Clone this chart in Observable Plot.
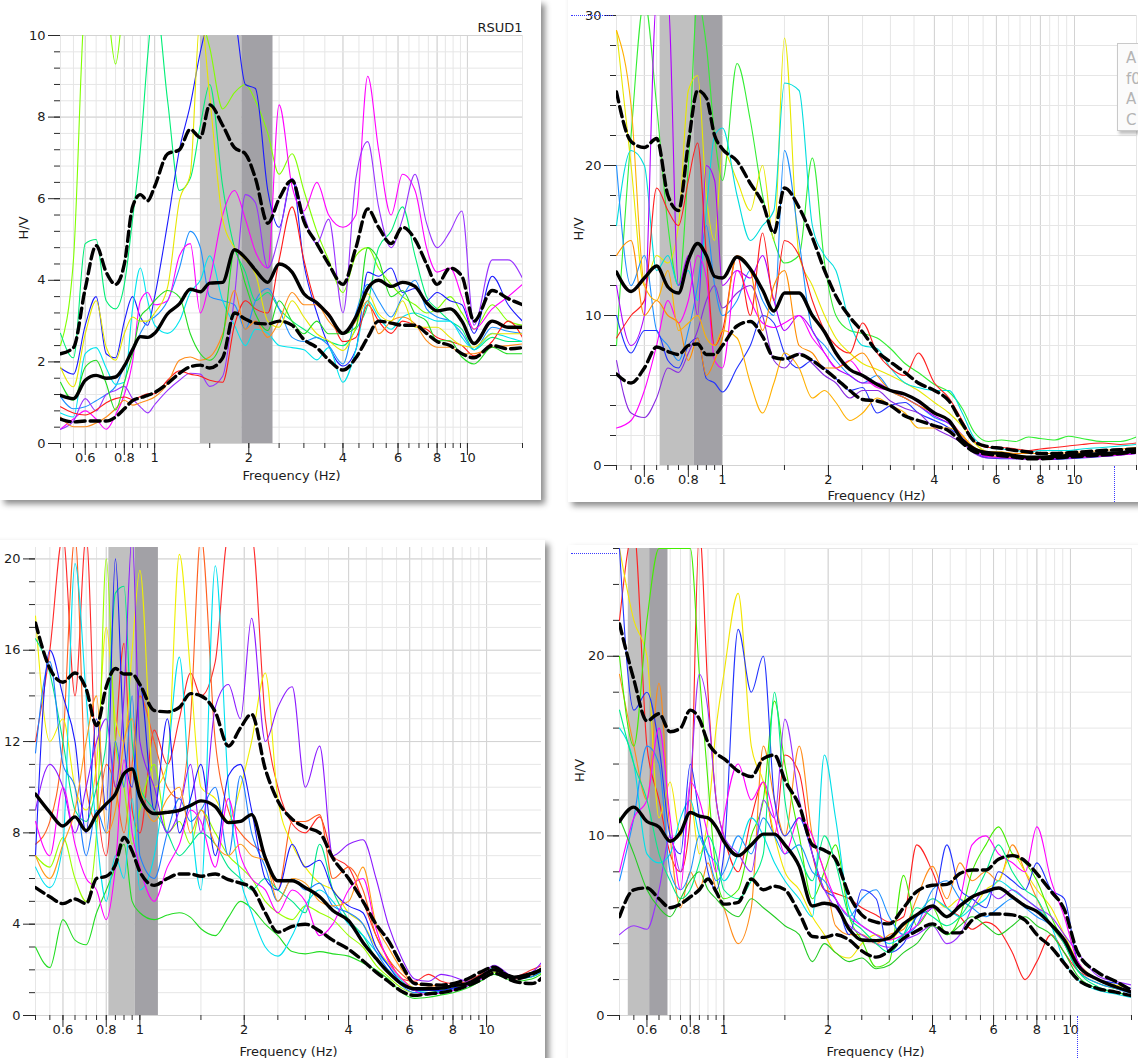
<!DOCTYPE html>
<html><head><meta charset="utf-8">
<script src="https://cdn.jsdelivr.net/npm/d3@7"></script>
<script src="https://cdn.jsdelivr.net/npm/@observablehq/plot@0.6"></script>
<style>
html,body{margin:0;padding:0;background:#fff;width:1138px;height:1058px;overflow:hidden;font-family:"DejaVu Sans",sans-serif;}
.card{position:absolute;background:#fff;overflow:hidden;box-shadow:4px 4px 6px rgba(0,0,0,0.45);}
.card svg{position:absolute;}
.dot{position:absolute;border:0 dotted #3b3bff;}
#legend{position:absolute;left:1117px;top:43px;width:40px;height:88px;border:1px solid #c9c9c9;background:#fbfbfb;box-shadow:2px 3px 3px rgba(0,0,0,0.25);color:#b4b4b4;font:15px "DejaVu Sans",sans-serif;line-height:20.5px;padding:4px 0 0 8px;box-sizing:border-box;}
</style></head><body>
<div id="c1" class="card" style="left:0;top:0;width:541px;height:500px"></div>
<div id="c2" class="card" style="left:568px;top:-10px;width:600px;height:512px"></div>
<div id="c3" class="card" style="left:-10px;top:540px;width:555px;height:540px"></div>
<div id="c4" class="card" style="left:568px;top:545px;width:600px;height:540px"></div>
<div class="dot" style="left:571px;top:15px;width:42px;border-top-width:1px"></div>
<div class="dot" style="left:1114px;top:466px;height:36px;border-left-width:1px"></div>
<div class="dot" style="left:571px;top:553px;width:46px;border-top-width:1px"></div>
<div class="dot" style="left:1077px;top:1016px;height:42px;border-left-width:1px"></div>
<div id="legend"><div>A</div><div>f0</div><div>A</div><div>C</div></div>
<script>
// ---------- shared frequency samples (Hz) and axis ticks ----------
const FREQ = [0.5,0.55,0.6,0.65,0.7,0.75,0.8,0.85,0.9,0.95,
  1,1.1,1.2,1.3,1.4,1.5,1.65,1.8,1.95,2.1,
  2.3,2.5,2.75,3,3.3,3.6,4,4.4,4.8,5.2,
  5.7,6.2,6.8,7.4,8,8.8,9.6,10.5,12,13.5,15];
const X_MINOR_TICKS = [0.5,0.55,0.6,0.65,0.7,0.75,0.8,0.85,0.9,0.95,1,1.5,2,2.5,3,3.5,4,4.5,5,5.5,6,6.5,7,7.5,8,8.5,9,9.5,10,15];
const X_MAJOR_TICKS = [0.6,0.8,1,2,4,6,8,10];
const X_LABEL = "Frequency (Hz)";
const Y_LABEL = "H/V";
const STATION = "RSUD1";

// ---------- panel 1 (top left) ----------
const p1YMajor = [0,2,4,6,8,10];
const p1YMinor = [0,0.4,0.8,1.2,1.6,2,2.4,2.8,3.2,3.6,4,4.4,4.8,5.2,5.6,6,6.4,6.8,7.2,7.6,8,8.4,8.8,9.2,9.6,10];
const p1Band = [1.40, 1.90, 2.39];
const p1Mean = [1.18,1.1,1.55,1.67,1.6,1.63,1.9,2.3,2.62,2.6,
  2.7,3.18,3.42,3.78,3.72,3.93,3.95,4.75,4.55,4.25,
  3.95,4.4,4.2,3.67,3.45,3.15,2.7,3.1,3.8,4.0,
  3.85,3.95,3.85,3.45,3.25,3.3,3.0,2.45,3.0,2.85,2.85];
const p1Upper = [2.2,2.35,3.8,4.85,4.2,3.9,4.4,5.8,6.1,5.95,
  6.3,7.1,7.2,7.7,7.5,8.3,7.8,7.25,7.1,6.5,
  5.4,6.0,6.45,5.45,4.9,4.4,3.9,4.8,5.75,5.3,
  4.9,5.3,5.0,4.4,3.9,4.3,4.1,3.0,3.75,3.55,3.4];
const p1Lower = [0.6,0.53,0.55,0.55,0.55,0.65,0.85,1.05,1.12,1.18,
  1.25,1.47,1.72,1.88,1.92,1.85,2.1,3.2,3.05,2.95,
  2.93,3.0,2.9,2.55,2.35,2.05,1.8,2.1,2.6,3.0,
  2.95,2.9,2.9,2.7,2.5,2.4,2.2,2.1,2.4,2.32,2.35];
const p1Windows = [
 [2.4,4.5,11,12,11,9.3,11,12,12,12, 12,12,12,11,10.5,9.7,8.2,8.6,8.8,8.4, 7.6,6.6,7.1,6.2,5.2,4.5,3.7,4.6,4.8,4.3, 3.9,3.6,3.4,3.2,3.3,3.6,3.2,2.8,3.4,3.0,2.9],
 [2.7,2.1,4.9,5.0,3.5,3.3,3.9,5.5,7.2,9.5, 11,8.4,6.2,6.5,7.8,8.8,6.3,4.8,4.2,3.5, 3.7,3.3,3.0,2.8,2.6,2.5,2.4,2.8,3.4,4.8, 5.2,5.8,4.6,3.6,3.3,3.0,2.8,2.3,2.6,2.5,2.5],
 [1.85,1.7,2.9,3.6,2.2,2.1,3.0,3.6,3.1,2.9, 3.6,5.4,7.2,8.3,9.6,10.5,11,10.5,8.8,8.7, 6.2,5.3,6.5,4.4,3.2,2.4,1.9,2.3,4.2,4.1, 4.3,3.7,3.8,3.5,3.7,3.5,3.4,2.7,4.1,3.4,3.0],
 [1.15,0.85,0.9,1.05,1.2,1.4,1.9,2.3,2.7,3.0, 3.1,3.5,4.3,5.2,4.8,3.6,3.5,3.4,2.8,3.5, 3.8,3.3,2.6,2.5,2.6,2.4,1.95,3.2,3.9,3.5, 3.1,3.6,4.0,3.3,3.1,3.0,2.7,2.3,2.85,2.75,2.7],
 [0.75,0.65,2.2,2.35,1.85,1.45,1.5,3.3,4.3,3.5, 2.9,2.7,3.0,3.7,4.0,4.6,3.5,2.9,2.4,2.8, 2.7,2.4,2.35,2.3,2.05,2.35,1.5,2.3,3.5,3.1, 2.8,3.1,3.2,3.1,3.0,3.0,2.6,2.3,2.7,2.6,2.5],
 [0.35,0.6,0.8,0.6,0.35,0.7,1.2,2.0,3.5,3.7, 3.4,3.5,4.6,4.9,3.2,4.0,5.6,6.2,5.5,4.7, 4.3,8.3,6.3,5.7,6.4,5.6,5.3,5.6,9.0,7.2, 5.6,6.6,6.2,4.8,4.2,4.3,3.6,2.8,3.3,3.6,3.9],
 [0.35,0.55,1.1,0.8,1.2,1.3,1.4,1.1,0.9,0.75, 0.95,1.3,1.55,1.72,1.7,1.4,1.65,3.6,6.1,5.9, 4.3,5.1,6.5,5.6,4.9,5.5,3.2,6.5,7.4,5.8, 4.8,5.5,6.6,5.4,4.8,5.2,5.7,2.9,4.5,4.5,4.05],
 [0.9,0.75,0.7,0.82,1.0,1.1,1.14,1.08,1.15,1.22, 1.22,1.55,1.78,1.7,1.65,1.55,1.5,2.9,3.5,3.3, 3.2,4.5,5.8,4.5,3.4,3.2,2.5,2.6,3.4,3.0, 2.7,3.0,2.9,2.8,2.6,2.5,2.4,2.15,2.5,3.0,2.6],
 [0.65,0.41,0.41,0.5,0.65,0.85,1.06,0.94,1.0,1.06, 1.14,1.47,2.04,2.12,2.04,2.12,2.69,3.75,2.8,3.0, 2.6,3.0,3.7,3.4,3.4,3.0,2.69,3.0,3.5,2.69, 3.0,3.1,2.93,2.52,2.36,2.36,2.2,2.2,2.36,2.4,2.44],
 [1.87,1.39,2.69,3.5,2.36,2.04,2.69,3.1,3.0,3.0, 3.2,3.83,5.95,6.6,10.5,8.5,5.5,4.8,4.5,4.16, 3.0,2.85,3.5,3.1,2.69,2.52,2.28,2.85,3.67,3.18, 3.0,3.5,2.85,2.85,2.85,2.6,2.4,2.36,2.69,2.69,2.69],
 [1.5,1.06,1.87,2.04,1.47,0.82,1.5,2.2,3.1,3.3, 3.5,3.75,3.59,2.69,2.2,2.04,2.6,4.73,3.91,3.18, 2.77,3.5,3.0,2.69,3.0,2.69,2.69,2.85,4.8,4.5, 3.6,3.75,3.18,3.0,2.52,2.52,2.12,1.95,2.36,2.2,2.2]
];
const p1Colors = ["#80ff00","#00ee77","#1a1aff","#1e90ff","#00e5ee","#ff00ff","#9932ff","#ff1a1a","#ff8c1a","#e6e600","#22dd22"];

// ---------- panel 2 (top right) ----------
const p2YMajor = [0,10,20,30];
const p2YMinor = [0,2,4,6,8,10,12,14,16,18,20,22,24,26,28,30];
const p2Band = [0.665, 0.832, 1.0];
const p2Mean = [12.9,11.6,12.5,13.3,11.9,11.5,13.7,14.8,14.0,12.6,
  12.5,13.9,13.1,11.7,10.3,11.5,11.5,10.0,8.9,7.5,
  6.4,6.0,5.4,5.0,4.75,4.3,3.5,3.0,1.7,1.1,
  0.85,0.8,0.65,0.56,0.56,0.6,0.67,0.72,0.8,0.85,1.0];
const p2Upper = [24.9,21.6,21.2,21.8,18.0,17.0,21.5,25.0,24.5,22.0,
  21.1,20.3,18.8,17.5,15.5,18.5,17.2,15.2,13.0,11.3,
  9.9,8.9,7.6,6.9,6.2,5.5,5.0,4.3,2.8,1.6,
  1.25,1.15,1.0,0.9,0.8,0.8,0.85,0.9,1.0,1.05,1.1];
const p2Lower = [6.1,5.5,6.5,7.9,7.6,7.4,8.0,8.1,7.4,7.4,
  8.0,9.3,9.6,8.6,7.2,7.1,7.4,7.0,6.4,5.8,
  5.0,4.4,4.3,4.0,3.3,3.0,2.65,2.3,1.5,0.9,
  0.75,0.65,0.55,0.45,0.45,0.5,0.56,0.62,0.7,0.8,0.9];
const p2Windows = [
 [8.0,22,31,24,16,12,20,31,28,22, 19,26.8,23,18,15,13.5,14,20.5,13.5,10, 9.0,8.8,8.5,7.8,6.8,6.2,5.4,4.9,3.8,2.2, 1.6,1.7,1.6,1.9,1.8,1.7,1.95,1.8,1.6,1.6,1.9],
 [29,20,12,14,13.5,16,25,26,18,15, 21,19,17,20,15,28.5,14,12,10,8.5, 7.5,6.8,6.4,6.0,5.5,5.0,4.2,3.5,2.6,1.5, 0.9,0.9,0.7,0.6,0.6,0.6,0.7,0.8,0.8,0.9,1.0],
 [16,21,20,13,14,12,13,11,17,22, 22.5,18,15,16,17,25.5,25,16,14,13, 9.5,8.0,7.8,6.5,5.5,5.2,5.0,5.0,3.5,1.8, 1.2,1.1,1.0,0.9,1.0,1.0,1.0,1.1,1.2,1.3,1.4],
 [20,12,14,9,8,7,9,12,16,12, 10,11,13,11,10,21,15,9,8,7, 6,5.5,6.0,5.0,4.5,4.0,3.2,2.8,2.0,1.0, 0.6,0.55,0.5,0.5,0.45,0.5,0.55,0.6,0.7,0.75,0.85],
 [10,7.5,9,9,7,6.5,8,8.5,5.8,5.5, 4.9,6.5,8.0,10,9.5,7.5,6.5,7.0,6.5,5.8, 5.0,5.2,3.5,4.0,4.2,3.5,3.0,2.5,1.8,0.9, 0.5,0.45,0.45,0.45,0.4,0.4,0.45,0.5,0.6,0.7,0.8],
 [7.0,3.5,3.2,4.5,6.5,6.2,7.5,9.0,11,12, 10.5,11.5,12,10,7.0,6.5,7.5,6.8,6.0,5.5, 4.5,5.0,5.0,4.3,3.8,3.5,2.5,2.0,1.5,0.8, 0.5,0.5,0.45,0.4,0.4,0.45,0.5,0.55,0.6,0.7,0.8],
 [12,8,10,31,31,12,14,10,20,19, 12,13,12.5,14,11,9,10,9,7.5,6.5, 6.0,5.5,5.5,5.0,4.5,4.0,3.3,2.8,2.0,1.0, 0.6,0.55,0.5,0.45,0.45,0.5,0.55,0.6,0.7,0.8,0.9],
 [2.5,3.0,5,8,11,9.5,11,14,12.5,7, 6.5,13,11,9.5,9.2,9.5,10,8.5,7.5,6.5, 7.0,6.0,5.2,5.0,4.8,4.2,3.5,3.0,2.0,1.0, 0.6,0.55,0.5,0.45,0.4,0.45,0.5,0.55,0.65,0.7,0.8],
 [8.5,10,11,18.5,17,16,19,21.5,14,8, 9,14,10,15.5,11,15,14,11,9,8, 7.5,9.5,7.5,6.5,6.0,7.5,5.5,4.5,3.0,1.6, 1.2,1.2,1.1,1.0,1.1,1.2,1.3,1.4,1.5,1.4,1.5],
 [14,15,10,11,10,9.5,7,8.5,6.0,7, 8.5,14,13,9,12,13,8,7.5,6.5,6.5, 7,7.5,6.0,5.0,4.5,4.0,3.5,3.0,2.0,1.2, 0.9,0.9,0.8,0.8,0.8,0.8,0.85,0.9,1.0,1.1,1.2],
 [29,24,12,11,13,9,9.5,10,8.5,8, 9,8.5,5.5,3.5,5.5,7.5,6.5,4.5,5,4.2, 3.0,3.5,4.5,4.0,3.5,2.5,2.5,2.5,2.0,1.1, 0.7,0.6,0.55,0.5,0.5,0.55,0.6,0.65,0.7,0.8,0.9]
];
const p2Colors = ["#33ee33","#e8e800","#00dddd","#1e90ff","#2233ff","#8a2be2","#b000ff","#ff00ff","#ff2020","#ff8c00","#ffb000"];

// ---------- panel 3 (bottom left) ----------
const p3YMajor = [0,4,8,12,16,20];
const p3YMinor = [0,1,2,3,4,5,6,7,8,9,10,11,12,13,14,15,16,17,18,19,20];
const p3Band = [0.814, 0.970, 1.131];
const p3Mean = [9.7,8.9,8.3,8.7,8.1,8.8,9.27,9.7,10.6,10.8,
  9.6,8.85,8.9,8.98,9.2,9.4,9.15,8.45,8.5,8.8,
  6.9,5.9,5.9,5.6,5.2,4.6,4.15,3.2,2.5,1.9,
  1.38,1.17,1.17,1.2,1.3,1.4,1.7,2.0,1.68,1.85,2.1];
const p3Upper = [17.2,15.2,14.6,15.0,14.3,12.7,14.4,15.2,14.96,14.96,
  14.5,13.36,13.3,13.5,14.1,14.0,13.3,11.8,12.6,13.2,
  10.8,9.4,8.6,8.25,8.0,6.9,6.0,5.0,4.0,3.3,
  2.2,1.4,1.35,1.33,1.4,1.6,1.9,2.12,1.6,1.8,2.2];
const p3Lower = [5.6,5.2,4.9,5.1,4.9,6.0,6.1,6.6,7.8,7.2,
  6.3,5.7,6.0,6.2,6.2,6.1,6.2,5.95,5.8,5.6,
  4.5,3.65,3.9,4.0,3.7,3.3,2.9,2.4,1.9,1.5,
  1.05,0.88,0.95,1.0,1.1,1.3,1.55,1.85,1.5,1.4,1.9];
const p3Windows = [
 [12,16,21,14,21,10,7,12,16.3,9, 8,12.5,11,13,15,14,15.5,21,21,21, 13,10,8.4,8.0,8.7,7.0,6.5,5.0,3.5,2.5, 1.6,1.5,1.8,1.5,1.4,1.5,1.8,2.1,1.7,2.0,2.3],
 [7.5,8.5,12,21,10,8.5,11,10,8,11, 14,12,10,9.5,13,21,12,9,8,7.5, 7,5.5,8.5,8.5,8.8,6.0,6.5,5.5,3.5,2.5, 1.8,1.4,1.3,1.3,1.3,1.4,1.7,2.0,1.6,1.8,2.3],
 [17.5,12,13,10,9,11,17,13,12,16, 19.5,10,11,20.2,15,10,9.5,8.5,10,12, 15,9.5,7.5,6.5,5.8,5.5,4.5,4.0,3.0,2.3, 1.6,1.2,1.1,1.2,1.2,1.4,1.7,2.0,1.6,1.8,2.1],
 [7,6.5,7.8,6,5,8,20,12,10,7.5, 9,11,8,8.5,7.5,9,8,7,6.5,6.0, 5.0,4.5,4.2,4.8,4.5,4.2,3.5,3.0,2.2,1.7, 1.2,1.0,1.0,1.1,1.2,1.3,1.6,1.9,1.6,1.7,2.0],
 [3.0,2.1,4.2,3.3,3.1,4.5,5.5,6.5,7.5,5.0, 4.5,4.2,4.4,4.5,4.3,3.8,3.5,4.3,5.0,4.7, 4.0,3.5,2.8,2.7,2.8,2.7,2.6,2.3,2.0,1.6, 1.0,0.75,0.8,0.9,1.0,1.2,1.5,1.8,1.5,1.6,2.0],
 [16.5,15,12,9,8.5,10,12,18.5,18.8,12, 10,9,8,7.0,7.5,8.0,7.5,6.5,6.0,5.5, 6.0,5.5,5.0,4.5,7.5,5.5,4.2,3.5,2.5,2.0, 1.4,1.1,1.0,1.1,1.2,1.3,1.6,2.0,1.6,1.7,2.1],
 [6.5,5.6,7.5,19.8,14,8,5,7,6,9.5, 5.5,7,11,15.7,9,5.5,19.7,10,6,4.5, 3.0,2.6,3.5,4.8,5.5,5.0,4.0,3.5,2.8,2.2, 1.5,1.1,1.0,1.0,1.1,1.3,1.6,2.1,1.7,1.8,2.1],
 [11.5,15.5,11,10,7,9,8,12,10,14, 7,6,8,9.5,8.5,9,10,7,10.5,8, 6.5,5.0,6.0,5.5,5.8,4.8,4.5,4.0,2.8,2.0, 1.3,1.0,1.0,1.05,1.15,1.3,1.6,2.0,1.6,1.7,2.1],
 [7,16,14,12,8,13,9,20,12,10, 14.5,9,13,8,9.5,11,7,10.5,11,9, 6,5.5,7.5,6.5,6.8,5.5,4.8,4.5,3.0,2.2, 1.4,1.1,1.1,1.1,1.2,1.3,1.6,2.0,1.6,1.8,2.1],
 [9,11,10,8,10,12,13,10,14,21, 12,10,8,9,11,8,13.5,14.5,13,17.4, 12,13.5,14.4,10,11.8,7.0,7.5,7.7,6.0,4.0, 2.5,1.6,1.5,1.8,1.7,1.5,1.7,2.2,1.7,1.9,2.7],
 [8.5,7.0,10,7.5,6,5.5,4.2,6.5,11.2,8, 6.5,5.0,6.5,7.5,9.0,8.5,6.5,9.5,7.0,6.0, 5.5,4.5,5.5,5.0,3.5,4.0,5.5,6.0,3.8,2.4, 1.6,1.1,0.9,1.0,1.1,1.3,1.6,2.0,1.6,1.8,2.1],
 [7,6,7.5,9,12,14,8,9,12,13, 10,8.5,9.5,10,8,9,7.5,7,7.5,7.0, 6.8,5.0,6.0,5.8,5.0,4.8,5.0,6.5,4.0,3.0, 2.0,1.4,1.3,1.3,1.3,1.4,1.7,2.0,1.6,1.8,2.2]
];
const p3Colors = ["#ff2a2a","#ff6020","#f0f000","#99ff00","#22dd22","#00e68a","#00e0f0","#1e7fff","#1a1aff","#8c1aff","#ff00ff","#ff9a1a"];

// ---------- panel 4 (bottom right) ----------
const p4YMajor = [0,10,20];
const p4YMinor = [0,2,4,6,8,10,12,14,16,18,20,22,24,26];
const p4Band = [0.530, 0.611, 0.690];
const p4Mean = [10.8,11.6,10.8,10.5,9.7,10.2,11.3,11.1,11.0,10.5,
  9.7,8.9,9.5,10.1,10.1,9.5,8.3,6.1,6.25,6.1,
  4.8,4.2,4.17,4.3,5.1,5.6,6.1,5.5,6.1,6.6,
  6.9,7.1,6.6,6.1,5.8,5.05,4.2,2.8,2.0,1.6,1.3];
const p4Upper = [21.8,18.7,16.4,16.8,15.8,16.0,17.0,16.5,15.2,14.6,
  14.3,13.6,13.3,14.3,14.5,13.1,11.7,9.5,9.2,8.7,
  6.7,5.6,5.2,5.1,6.0,6.9,7.25,7.3,7.9,8.1,
  8.1,8.7,8.9,8.6,7.9,6.9,5.9,3.5,2.4,1.9,1.4];
const p4Lower = [5.5,7.0,7.1,6.5,6.0,6.2,6.6,7.0,7.6,6.9,
  6.2,6.3,7.6,7.0,7.2,7.0,5.7,4.4,4.35,4.5,
  4.2,3.6,3.25,3.6,4.3,4.7,5.1,4.6,4.6,5.3,
  5.65,5.65,5.6,5.3,4.5,3.8,2.9,2.0,1.5,1.3,1.1];
const p4Windows = [
 [22,27,15,12,9,8,11,27,18,12, 10,8,11,13,10,14.5,13.5,9,7,6.8, 6.5,6.0,5.6,5.2,5.5,9.5,8.0,6.0,5.5,4.8, 5.2,4.8,3.5,2.0,3.0,4.5,3.5,2.5,2.0,1.5,1.3],
 [19,15,12,18.5,10,6,8,7,8.5,7, 6,4,6,15,12,10,15,10,8,5.0, 4.5,4.5,4.0,4.5,4.8,6.5,8.3,6.5,8.5,7.5, 8.0,7.5,9.5,8.0,6.5,5.0,4.0,2.8,2.0,1.6,1.3],
 [26,22,20,11,13,10,12,9,11,16, 19,23.5,15,13,10,8,7,5.5,4.5,3.5, 3.2,4.0,4.5,4.2,5.0,5.5,6.5,6.0,6.5,6.0, 7.0,7.5,9.0,8.0,7.0,6.0,4.5,3.0,2.0,1.7,1.5],
 [20,15,22,26,26,26,26,19,13,8, 6.5,7,10,12,17.5,14,10,6.5,8,9.5, 5.5,4.2,2.7,3.0,7.8,5.0,6.0,4.5,5.5,8.0, 9.5,10.5,9.0,8.5,7.5,5.5,4.0,2.5,1.8,1.5,1.3],
 [16,14,9,8.5,9,11,12,10,9,8.5, 7.5,9,11,10,8.5,7.5,6.5,5.5,14.5,11, 6.0,5.0,4.5,4.0,4.5,5.5,6.5,6.0,5.5,6.0, 6.5,7.5,7.0,6.5,6.0,5.0,3.0,2.0,1.4,1.2,1.0],
 [7.5,11,15,14,8,7,8,10,9,7.5, 8,10,9,11,10,9,9.5,8,7.5,6.5, 5.5,6.5,7.0,5.5,4.5,5.0,7.0,7.5,6.5,6.0, 5.5,6.0,6.5,6.0,5.5,5.0,4.0,2.5,1.8,1.5,1.2],
 [26,17,18,15,10,9,14,11,8,7, 9,21.5,18,20,12,10,11,9,7,6.5, 4.5,7.0,6.5,3.5,4.0,5.5,6.0,9.5,7.0,6.5, 6.0,8.0,7.5,7.0,8.5,7.0,6.5,3.0,2.0,1.8,1.5],
 [4.5,5,4.8,7,10,8,13,19,17,12, 10,9,8,12,11,16.5,12,9,7,6.0, 5.0,4.5,4.0,3.8,4.2,4.5,5.0,4.0,4.5,6.0, 7.0,6.5,7.0,6.5,6.0,5.5,4.5,3.5,2.2,1.9,1.7],
 [8,11,12,16,11,7,13,12,10,8, 11,14,12,13,11,9,11,10,8,6.5, 5.5,5.0,4.5,4.2,4.5,5.0,6.0,5.5,6.5,9.5, 10,9.0,8.5,8.0,10.5,7.5,5.5,3.0,2.0,1.6,1.4],
 [17,14,12,9,7.5,6.5,7,8.5,10,9, 7,6.5,7.5,9,18,12,9,7.5,10,8.5, 5.5,4.8,4.0,3.5,4.5,6.0,5.5,5.0,5.5,6.5, 8.0,9.5,8.0,7.0,6.5,5.0,4.0,2.5,1.6,1.3,1.1],
 [11,9,7,6,5.5,6.5,7.5,8,7,6.5, 6,5.5,6.5,6.0,5.5,5.0,4.5,3.0,4.0,3.5, 3.0,3.2,2.6,2.8,3.5,4.0,5.0,4.5,5.0,5.5, 5.0,4.5,5.0,5.5,5.0,4.5,3.5,2.2,1.5,1.3,1.1]
];
const p4Colors = ["#ff2020","#ff8c1a","#f2e600","#44ee00","#00dfe8","#1e90ff","#2233ff","#9a30ff","#ff00ff","#00ee88","#22cc22"];

// ---------- drawing ----------
function drawPanel(cfg) {
  const xt = X_MINOR_TICKS.filter(f => f >= cfg.xDomain[0] - 1e-9 && f <= cfg.xDomain[1] + 1e-9);
  const xm = X_MAJOR_TICKS.filter(f => f >= cfg.xDomain[0] && f <= cfg.xDomain[1]);
  const bands = [
    {a: cfg.band[0], b: cfg.band[1], fill: "#c0c0c0"},
    {a: cfg.band[1], b: cfg.band[2], fill: "#a2a1a6"}
  ];
  const yTop = cfg.yDomain[1];
  const pts = arr => arr.map((v, i) => ({f: FREQ[i], v}));
  const marks = [
    Plot.gridX(xt, {stroke: "#e6e6e6", strokeOpacity: 1}),
    Plot.gridX(xm, {stroke: "#d3d3d3", strokeOpacity: 1}),
    Plot.gridY(cfg.yMinor, {stroke: "#e6e6e6", strokeOpacity: 1}),
    Plot.gridY(cfg.yMajor, {stroke: "#d3d3d3", strokeOpacity: 1}),
    Plot.rect(bands, {x1: "a", x2: "b", y1: 0, y2: yTop, fill: d => d.fill}),
    ...cfg.windows.map((w, k) => Plot.line(pts(w), {x: "f", y: "v", stroke: cfg.colors[k], strokeWidth: 1.1, curve: "monotone-x", clip: true})),
    Plot.line(pts(cfg.upper), {x: "f", y: "v", stroke: "#000", strokeWidth: 3.4, strokeDasharray: "10,5", curve: "monotone-x", clip: true}),
    Plot.line(pts(cfg.lower), {x: "f", y: "v", stroke: "#000", strokeWidth: 3.4, strokeDasharray: "10,5", curve: "monotone-x", clip: true}),
    Plot.line(pts(cfg.mean), {x: "f", y: "v", stroke: "#000", strokeWidth: 3.4, curve: "monotone-x", clip: true}),
    Plot.axisX(xt, {tickSize: 5, tickFormat: () => "", label: null, stroke: "#2a2a2a"}),
    Plot.axisX(xm, {tickSize: 12, tickFormat: () => "", label: null, stroke: "#2a2a2a"}),
    Plot.text(xm, {x: d => d, text: d => String(d), frameAnchor: "bottom", dy: 18, fontSize: 13, fill: "#1c1c1c"}),
    Plot.axisY(cfg.yMinor, {tickSize: 6, tickFormat: () => "", label: null, stroke: "#2a2a2a"}),
    Plot.axisY(cfg.yMajor, {tickSize: 12, tickPadding: 3, tickFormat: d => String(d), label: null, stroke: "#2a2a2a"}),
    Plot.text([X_LABEL], {frameAnchor: "bottom", dy: cfg.xlDy, fontSize: 13, fill: "#1c1c1c"})
  ];
  if (cfg.hvDx != null) marks.push(Plot.text([Y_LABEL], {frameAnchor: "left", dx: cfg.hvDx, rotate: -90, fontSize: 13, fill: "#1c1c1c"}));
  if (cfg.station) marks.push(Plot.text([cfg.station], {frameAnchor: "top-right", textAnchor: "end", dy: -13, fontSize: 13, fill: "#1c1c1c"}));
  const svg = Plot.plot({
    width: cfg.W, height: cfg.H,
    marginLeft: cfg.m[0], marginRight: cfg.m[1], marginTop: cfg.m[2], marginBottom: cfg.m[3],
    x: {type: "log", domain: cfg.xDomain},
    y: {domain: cfg.yDomain},
    style: {fontFamily: "DejaVu Sans, sans-serif", fontSize: "13px", color: "#1c1c1c", background: "transparent", overflow: "visible"},
    marks
  });
  const card = document.getElementById(cfg.card);
  const cl = parseFloat(card.style.left), ct = parseFloat(card.style.top);
  svg.style.left = (cfg.ox - cl) + "px";
  svg.style.top = (cfg.oy - ct) + "px";
  card.appendChild(svg);
}

drawPanel({card: "c1", ox: 0, oy: 0, W: 541, H: 500, m: [60, 19, 35, 57],
  xDomain: [0.5, 15], yDomain: [0, 10], yMajor: p1YMajor, yMinor: p1YMinor, band: p1Band,
  windows: p1Windows, colors: p1Colors, mean: p1Mean, upper: p1Upper, lower: p1Lower, hvDx: -37, xlDy: 36, station: STATION});
drawPanel({card: "c2", ox: 570, oy: 0, W: 568, H: 502, m: [46, 2, 15, 37],
  xDomain: [0.5, 15], yDomain: [0, 30], yMajor: p2YMajor, yMinor: p2YMinor, band: p2Band,
  windows: p2Windows, colors: p2Colors, mean: p2Mean, upper: p2Upper, lower: p2Lower, hvDx: -38, xlDy: 34});
drawPanel({card: "c3", ox: 0, oy: 540, W: 545, H: 518, m: [35, 4, 7, 43],
  xDomain: [0.5, 14.4], yDomain: [0, 20.5], yMajor: p3YMajor, yMinor: p3YMinor, band: p3Band,
  windows: p3Windows, colors: p3Colors, mean: p3Mean, upper: p3Upper, lower: p3Lower, hvDx: null, xlDy: 40});
drawPanel({card: "c4", ox: 570, oy: 545, W: 568, H: 513, m: [49, 7, 3, 43],
  xDomain: [0.5, 15], yDomain: [0, 26], yMajor: p4YMajor, yMinor: p4YMinor, band: p4Band,
  windows: p4Windows, colors: p4Colors, mean: p4Mean, upper: p4Upper, lower: p4Lower, hvDx: -40, xlDy: 40});
</script>
</body></html>
